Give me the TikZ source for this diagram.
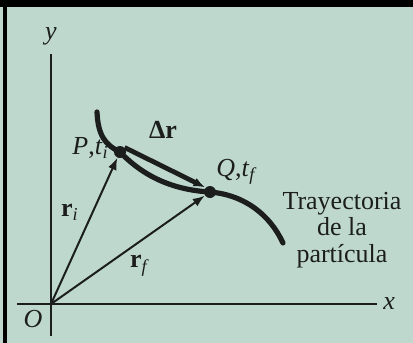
\documentclass[tikz,border=0pt]{standalone}
\usepackage{fontspec}
\setmainfont{Liberation Serif}
\usetikzlibrary{arrows.meta, positioning}
\definecolor{bgcol}{RGB}{190,216,206}
\definecolor{inkcol}{RGB}{28,30,30}
\newcommand{\sub}[1]{\textsubscript{\textit{#1}}}

\begin{document}
\begin{tikzpicture}[x=0.5pt, y=-0.5pt]
    \tikzstyle{axisline}=[draw=inkcol, line width=1pt]
    \tikzstyle{vecarrow}=[draw=inkcol, line width=1pt, -{Latex[length=6pt, width=4.5pt]}]
    \tikzstyle{trajline}=[draw=inkcol, line width=2.6pt, line cap=round]
    \tikzstyle{ptdot}=[circle, fill=inkcol, inner sep=0pt, minimum size=6pt]
    \tikzstyle{lbl}=[text=inkcol, font=\fontsize{13}{13.2}\selectfont, inner sep=1pt]

    % background and frame
    \fill[bgcol] (0,0) rectangle (413,343);
    \useasboundingbox (0,0) rectangle (413,343);
    \fill[black] (0,0) rectangle (413,7);
    \fill[black] (3,0) rectangle (7,343);

    % axes
    \coordinate (O) at (51,304);
    \coordinate (xend) at (377,304);
    \coordinate (yend) at (51,54);
    \draw[axisline] (17,304) -- (xend);
    \draw[axisline] (51,336) -- (yend);
    \node[lbl, right=2pt of xend] (xlbl) {\textit{x}};
    \node[lbl, above=3pt of yend] (ylbl) {\textit{y}};
    \node[lbl] (olbl) at (33,319) {\textit{O}};

    % points on the trajectory
    \node[ptdot] (P) at (120,152) {};
    \node[ptdot] (Q) at (210,192) {};

    % trajectory
    \draw[trajline] (97,112) .. controls (98,135) and (105,145) .. (P.center)
        .. controls (145,178) and (175,190) .. (Q.center)
        .. controls (245,195) and (270,215) .. (283,243);

    % position vectors
    \draw[vecarrow] (O) -- (P);
    \draw[vecarrow] (O) -- (Q);
    \draw[vecarrow, line width=2.4pt] (P.north east) -- (Q.north west);

    % labels
    \node[lbl] (ri) at (70,212) {\textbf{r}\sub{i}};
    \node[lbl] (rf) at (140,266) {\textbf{r}\sub{f}};
    \node[lbl] (dr) at (163,130) {\textbf{Δr}};
    \node[lbl, anchor=east] (plbl) at (111,148) {\textit{P},\textit{t}\sub{i}};
    \node[lbl, anchor=west] (qlbl) at (214,172) {\textit{Q},\textit{t}\sub{f}};
    \node[lbl, align=center] (tray) at (342,230) {Trayectoria\\de la\\partícula};
\end{tikzpicture}
\end{document}
